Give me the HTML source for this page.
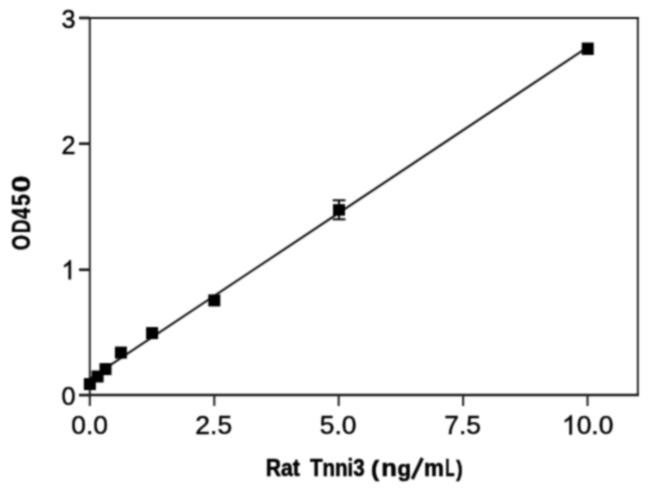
<!DOCTYPE html>
<html><head><meta charset="utf-8">
<style>
html,body{margin:0;padding:0;background:#fff;}
body{width:650px;height:491px;overflow:hidden;}
svg{display:block;}
text{font-family:"Liberation Sans",sans-serif;fill:#000;}
</style></head><body>
<svg width="650" height="491" viewBox="0 0 650 491">
<defs><filter id="b" x="0" y="0" width="650" height="491" filterUnits="userSpaceOnUse" color-interpolation-filters="sRGB"><feConvolveMatrix order="5" kernelMatrix="0.00087 0.00695 0.01388 0.00695 0.00087 0.00695 0.05540 0.11068 0.05540 0.00695 0.01388 0.11068 0.22111 0.11068 0.01388 0.00695 0.05540 0.11068 0.05540 0.00695 0.00087 0.00695 0.01388 0.00695 0.00087" divisor="1" edgeMode="duplicate" preserveAlpha="false"/></filter></defs>
<g id="all" filter="url(#b)">
<rect width="650" height="491" fill="#fff"/>
<!-- frame -->
<line x1="89.8" y1="16.95" x2="89.8" y2="396.1" stroke="#262626" stroke-width="2.0"/>
<line x1="637.85" y1="16.95" x2="637.85" y2="396.1" stroke="#262626" stroke-width="2.0"/>
<line x1="88.8" y1="17.95" x2="638.85" y2="17.95" stroke="#181818" stroke-width="2.1"/>
<line x1="88.8" y1="395.1" x2="638.85" y2="395.1" stroke="#181818" stroke-width="2.5"/>
<!-- ticks -->
<g stroke="#181818" stroke-width="2.7">
<line x1="79" y1="17.95" x2="89.8" y2="17.95"/><line x1="79" y1="143.7" x2="89.8" y2="143.7"/><line x1="79" y1="269.75" x2="89.8" y2="269.75"/><line x1="79" y1="395.1" x2="89.8" y2="395.1"/>
</g>
<g stroke="#262626" stroke-width="2.1">
<line x1="89.85" y1="395.1" x2="89.85" y2="406"/><line x1="214.28" y1="395.1" x2="214.28" y2="406"/><line x1="338.70" y1="395.1" x2="338.70" y2="406"/><line x1="463.13" y1="395.1" x2="463.13" y2="406"/><line x1="587.55" y1="395.1" x2="587.55" y2="406"/>
</g>
<!-- fit line -->
<line x1="90" y1="378.7" x2="587.7" y2="47.2" stroke="#161616" stroke-width="2.2"/>
<!-- error bar -->
<g stroke="#111" stroke-width="2.1">
<line x1="339" y1="200.3" x2="339" y2="219.3"/>
<line x1="332.7" y1="200.3" x2="345.5" y2="200.3"/>
<line x1="332.7" y1="219.3" x2="345.5" y2="219.3"/>
</g>
<!-- markers -->
<g fill="#000">
<rect x="83.85" y="378.10" width="12.0" height="12.0"/>
<rect x="91.60" y="370.50" width="12.0" height="12.0"/>
<rect x="99.50" y="363.10" width="12.0" height="12.0"/>
<rect x="114.90" y="346.60" width="12.0" height="12.0"/>
<rect x="146.10" y="327.10" width="12.0" height="12.0"/>
<rect x="208.30" y="294.40" width="12.0" height="12.0"/>
<rect x="333.00" y="204.15" width="12" height="11.5"/>
<rect x="581.75" y="42.55" width="12.0" height="12.4"/>
</g>
<!-- y labels -->
<text transform="translate(61.46,27.5) scale(0.96,1)" font-size="26.3" stroke="#000" stroke-width="0.45">3</text>
<text transform="translate(61.46,153.72) scale(0.96,1)" font-size="26.3" stroke="#000" stroke-width="0.45">2</text>
<path d="M763 0H583V1147Q518 1085 412.5 1023T223 930V1104Q373 1175 485.5 1276T647 1472H763V0Z" transform="translate(61.46,279.23) scale(0.012328,-0.012842)" fill="#000" stroke="#000" stroke-width="35.0"/>
<text transform="translate(61.46,404.5) scale(0.96,1)" font-size="26.3" stroke="#000" stroke-width="0.45">0</text>

<text transform="translate(71.33,434.4) scale(0.99,1)" font-size="26.7" stroke="#000" stroke-width="0.45">0.0</text>
<text transform="translate(195.35,434.4) scale(0.99,1)" font-size="26.7" stroke="#000" stroke-width="0.45">2.5</text>
<text transform="translate(319.78,434.4) scale(0.99,1)" font-size="26.7" stroke="#000" stroke-width="0.45">5.0</text>
<text transform="translate(444.20,434.4) scale(0.99,1)" font-size="26.7" stroke="#000" stroke-width="0.45">7.5</text>
<path d="M763 0H583V1147Q518 1085 412.5 1023T223 930V1104Q373 1175 485.5 1276T647 1472H763V0Z" transform="translate(561.98,434.4) scale(0.012907,-0.013037)" fill="#000" stroke="#000" stroke-width="34.5"/><text transform="translate(576.68,434.4) scale(0.99,1)" font-size="26.7" stroke="#000" stroke-width="0.45">0.0</text>

<text transform="translate(265.69,476.0) scale(0.9194,1)" font-size="23.0" font-weight="bold" fill="#0a0a0a" stroke="#0a0a0a" stroke-width="0.6">Rat</text>
<text transform="translate(309.97,476.0) scale(0.8931,1)" font-size="23.0" font-weight="bold" fill="#0a0a0a" stroke="#0a0a0a" stroke-width="0.6">Tnni3</text>
<text transform="translate(371.08,476.0) scale(1.1319,1)" font-size="21.6" font-weight="bold" fill="#0a0a0a" stroke="#0a0a0a" stroke-width="0.6">(</text>
<text transform="translate(381.32,476.0) scale(1.1074,1)" font-size="23.0" font-weight="bold" fill="#0a0a0a" stroke="#0a0a0a" stroke-width="0.6">n</text>
<text transform="translate(397.59,476.0) scale(0.9682,1)" font-size="23.0" font-weight="bold" fill="#0a0a0a" stroke="#0a0a0a" stroke-width="0.6">g</text>
<line x1="412.3" y1="479" x2="422.3" y2="458" stroke="#0a0a0a" stroke-width="3.4"/>
<text transform="translate(424.03,476.0) scale(0.9710,1)" font-size="23.0" font-weight="bold" fill="#0a0a0a" stroke="#0a0a0a" stroke-width="0.6">m</text>
<text transform="translate(445.18,476.0) scale(0.6608,1)" font-size="23.0" font-weight="bold" fill="#0a0a0a" stroke="#0a0a0a" stroke-width="0.6">L</text>
<text transform="translate(456.28,476.0) scale(0.8858,1)" font-size="21.6" font-weight="bold" fill="#0a0a0a" stroke="#0a0a0a" stroke-width="0.6">)</text>

<text transform="translate(29.7,250.21) rotate(-90) scale(0.7887,1)" font-size="25.0" font-weight="bold" fill="#0a0a0a" stroke="#0a0a0a" stroke-width="0.4">O</text>
<text transform="translate(29.7,233.29) rotate(-90) scale(0.7696,1)" font-size="25.0" font-weight="bold" fill="#0a0a0a" stroke="#0a0a0a" stroke-width="0.4">D</text>
<text transform="translate(29.7,219.01) rotate(-90) scale(0.8065,1)" font-size="25.0" font-weight="bold" fill="#0a0a0a" stroke="#0a0a0a" stroke-width="0.4">4</text>
<text transform="translate(29.7,205.96) rotate(-90) scale(0.8522,1)" font-size="25.0" font-weight="bold" fill="#0a0a0a" stroke="#0a0a0a" stroke-width="0.4">5</text>
<text transform="translate(29.7,192.61) rotate(-90) scale(1.2195,1)" font-size="25.0" font-weight="bold" fill="#0a0a0a" stroke="#0a0a0a" stroke-width="0.4">0</text>

</g>
</svg>
</body></html>
